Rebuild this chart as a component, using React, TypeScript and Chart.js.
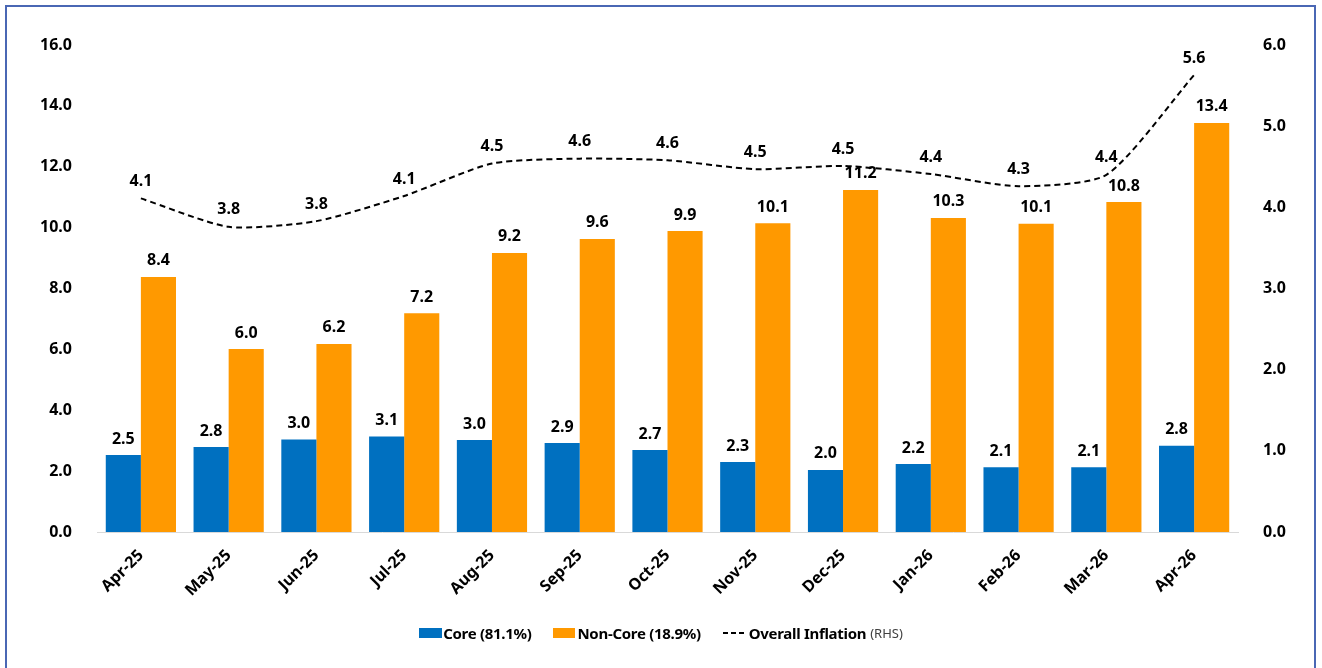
import React, { useEffect, useRef } from "react";
import { Chart, registerables } from "chart.js";

Chart.register(...registerables);

const categories = ["Apr-25", "May-25", "Jun-25", "Jul-25", "Aug-25", "Sep-25", "Oct-25", "Nov-25", "Dec-25", "Jan-26", "Feb-26", "Mar-26", "Apr-26"];
const coreValues = [2.53, 2.79, 3.04, 3.14, 3.02, 2.92, 2.69, 2.30, 2.04, 2.23, 2.13, 2.13, 2.83];
const nonCoreValues = [8.38, 6.01, 6.18, 7.19, 9.17, 9.63, 9.89, 10.14, 11.24, 10.32, 10.13, 10.84, 13.44];
const overallInflation = [4.11, 3.76, 3.83, 4.14, 4.54, 4.6, 4.58, 4.47, 4.51, 4.41, 4.26, 4.4, 5.63];
const leftAxis = { min: 0, max: 16, step: 2 };
const rightAxis = { min: 0, max: 6, step: 1 };

const FONT = "'Noto Sans', 'DejaVu Sans', sans-serif";

const valueLabels = {
  id: "valueLabels",
  afterDatasetsDraw(chart: any) {
    const ctx = chart.ctx;
    ctx.save();
    ctx.font = `bold 16px ${FONT}`;
    ctx.fillStyle = "#000";
    ctx.textAlign = "center";
    ctx.textBaseline = "middle";
    chart.data.datasets.forEach((ds: any, i: number) => {
      const meta = chart.getDatasetMeta(i);
      meta.data.forEach((el: any, j: number) => {
        const v = ds.data[j] as number;
        const off = ds.type === "line" ? 17 : 16;
        ctx.fillText(v.toFixed(1), el.x, el.y - off);
      });
    });
    ctx.restore();
  },
};

function ChartCanvas() {
  const ref = useRef<HTMLCanvasElement | null>(null);
  useEffect(() => {
    if (!ref.current) return;
    const chart = new Chart(ref.current, {
      type: "bar",
      data: {
        labels: categories,
        datasets: [
          {
            type: "line",
            label: "Overall Inflation",
            data: overallInflation,
            yAxisID: "y1",
            borderColor: "#000",
            borderWidth: 2,
            borderDash: [6, 4],
            pointRadius: 0,
            tension: 0.22,
            fill: false,
            order: 0,
          } as any,
          {
            type: "bar",
            label: "Core (81.1%)",
            data: coreValues,
            yAxisID: "y",
            backgroundColor: "#0070C0",
            categoryPercentage: 0.8,
            barPercentage: 1.0,
            order: 1,
          },
          {
            type: "bar",
            label: "Non-Core (18.9%)",
            data: nonCoreValues,
            yAxisID: "y",
            backgroundColor: "#FF9900",
            categoryPercentage: 0.8,
            barPercentage: 1.0,
            order: 1,
          },
        ],
      },
      options: {
        responsive: false,
        animation: false,
        layout: { padding: { top: 45, left: 0, right: 0, bottom: 0 } },
        plugins: { legend: { display: false }, tooltip: { enabled: false } },
        scales: {
          x: {
            grid: { display: false },
            border: { display: true, color: "#d9d9d9", width: 1 },
            ticks: {
              minRotation: 45,
              maxRotation: 45,
              padding: 6,
              color: "#000",
              font: { family: FONT, size: 16, weight: "bold" },
            },
            afterFit: (s: any) => {
              s.height = 136;
            },
          },
          y: {
            position: "left",
            min: leftAxis.min,
            max: leftAxis.max,
            grid: { display: false },
            border: { display: false },
            ticks: {
              stepSize: leftAxis.step,
              padding: 17,
              color: "#000",
              font: { family: FONT, size: 16, weight: "bold" },
              callback: (v: any) => Number(v).toFixed(1),
            },
            afterFit: (s: any) => {
              s.width = 97;
            },
          },
          y1: {
            position: "right",
            min: rightAxis.min,
            max: rightAxis.max,
            grid: { display: false },
            border: { display: false },
            ticks: {
              stepSize: rightAxis.step,
              padding: 17,
              color: "#000",
              font: { family: FONT, size: 16, weight: "bold" },
              callback: (v: any) => Number(v).toFixed(1),
            },
            afterFit: (s: any) => {
              s.width = 84;
            },
          },
        },
      },
      plugins: [valueLabels],
    });
    return () => chart.destroy();
  }, []);
  return <canvas ref={ref} width={1322} height={668} style={{ position: "absolute", left: 0, top: 0 }} />;
}

export default function App() {
  const textStyle: React.CSSProperties = { fontFamily: FONT, fontWeight: 700, fontSize: 15, letterSpacing: "-0.3px", color: "#000" };
  return (
    <div style={{ position: "fixed", left: 0, top: 0, width: 1322, height: 668, background: "#fff", overflow: "hidden" }}>
      <ChartCanvas />
      <div style={{ position: "absolute", left: 5, top: 5, width: 1311, height: 700, border: "2px solid #4a67b4", boxSizing: "border-box", pointerEvents: "none" }} />
      <div style={{ position: "absolute", left: 0, top: 621, width: 1322, display: "flex", justifyContent: "center", alignItems: "center", gap: 22, lineHeight: "24px" }}>
        <div style={{ display: "flex", alignItems: "center" }}>
          <span style={{ display: "inline-block", width: 23, height: 10, background: "#0070C0", marginRight: 1 }} />
          <span style={textStyle}>Core (81.1%)</span>
        </div>
        <div style={{ display: "flex", alignItems: "center" }}>
          <span style={{ display: "inline-block", width: 22, height: 10, background: "#FF9900", marginRight: 2 }} />
          <span style={textStyle}>Non-Core (18.9%)</span>
        </div>
        <div style={{ display: "flex", alignItems: "center" }}>
          <svg width={23} height={10} style={{ marginRight: 3 }}>
            <line x1={0} y1={5} x2={23} y2={5} stroke="#000" strokeWidth={2} strokeDasharray="5,3" />
          </svg>
          <span style={textStyle}>Overall Inflation</span>
          <span style={{ fontFamily: FONT, fontSize: 13, color: "#404040", marginLeft: 4 }}>(RHS)</span>
        </div>
      </div>
    </div>
  );
}
